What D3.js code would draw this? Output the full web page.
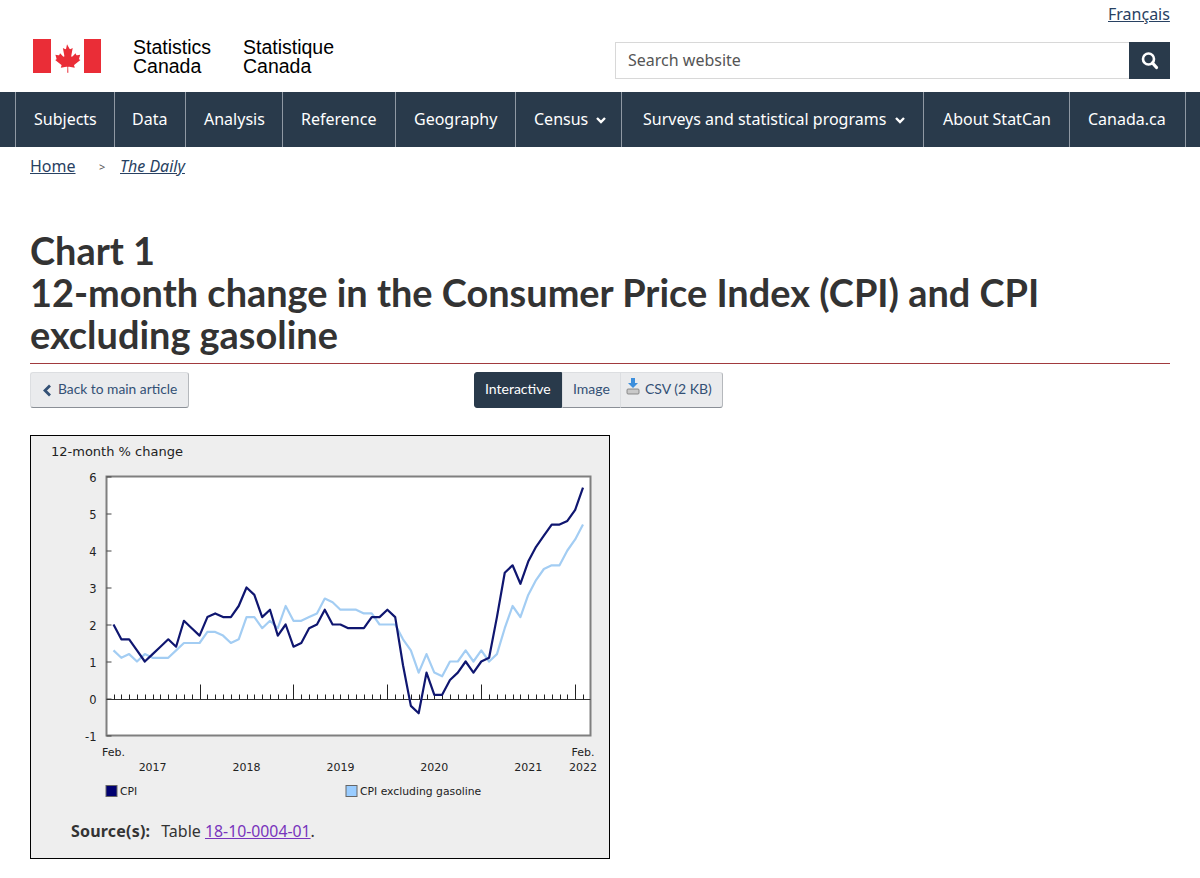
<!DOCTYPE html>
<html lang="en">
<head>
<meta charset="utf-8">
<title>Chart 1: 12-month change in the Consumer Price Index (CPI) and CPI excluding gasoline</title>
<script src="https://cdn.jsdelivr.net/npm/d3@7"></script>
<style>
  html, body { margin: 0; padding: 0; background: #fff; }
  body { position: relative; width: 1200px; height: 878px; overflow: hidden; font-family: "Noto Sans", sans-serif; color: #333; }
  .abs { position: absolute; white-space: nowrap; }
  a { color: #284162; }
  .logo { font-family: "Liberation Sans", sans-serif; font-size: 19.5px; line-height: 19px; color: #000; }
  #nav { position: absolute; left: 0; top: 92px; width: 1200px; height: 55px; background: #293a4b; }
  #nav span { position: absolute; top: 16px; color: #fff; font-size: 16px; line-height: 22px; white-space: nowrap; }
  #nav i { position: absolute; top: 0; width: 1px; height: 55px; background: #8f98a3; }
  #search { left: 615px; top: 42px; width: 513px; height: 35px; border: 1px solid #d8d8d8; }
  #search span { position: absolute; left: 12px; top: 6px; font-size: 16px; line-height: 22px; color: #555; }
  #searchBtn { left: 1129px; top: 42px; width: 41px; height: 37px; background: #293a4b; }
  h1 { position: absolute; left: 30px; top: 230px; margin: 0; font-family: Lato, sans-serif; font-weight: 700; font-size: 37.9px; line-height: 42px; color: #333; width: 1140px; }
  #rule { left: 30px; top: 363px; width: 1140px; height: 1px; background: #a13a3e; }
  .btn { position: absolute; box-sizing: border-box; height: 36px; top: 372px; font-family: Lato, sans-serif; font-size: 14px; line-height: 31px; background: #eaebed; color: #335075; border: 1px solid #dcdee1; border-bottom: 1px solid #8a8f96; border-right-color: #b5b8bc; white-space: nowrap; }
  #frame { position: absolute; box-sizing: border-box; left: 30px; top: 435px; width: 580px; height: 424px; background: #eee; border: 1px solid #000; }
  #chart { position: absolute; left: 0; top: 0; }
  #source { position: absolute; left: 40px; top: 383px; font-size: 16px; line-height: 24px; white-space: nowrap; color: #333; }
  #source b { letter-spacing: .2px; margin-right: 11px; }
  #source a { color: #7834bc; font-size: 15.8px; }
</style>
</head>
<body>

<!-- page header -->
<a class="abs" style="left:1108px;top:3px;font-size:16px;line-height:22px" href="#">Français</a>
<svg class="abs" style="left:33px;top:39px" width="68" height="34" viewBox="0 0 68 34">
  <rect x="0" y="0" width="18" height="34" fill="#ea2d37"/>
  <rect x="51" y="0" width="17" height="34" fill="#ea2d37"/>
  <path fill="#ea2d37" d="M34 3l3.2 5.8c.4.6 1 .6 1.600.3l2.500-1.300-1.800 9.400c-.3 1.700.8 2.200 1.800 1.100l3.600-3.800 1 2.100c.3.5.7.6 1.300.5l3.700-.8-1.300 4.500c-.2.800-.4 1.300.3 1.600l1.300.6-7.700 6.200c-.7.700-.5 1 -.2 1.700l.7 2.100-7.200-1.300c-.8-.1-1.300 0-1.300.7l.2 7.100h-1.400l.2-7.100c0-.7-.5-.8-1.300-.7l-7.200 1.300.7-2.100c.3-.7.500-1-.2-1.700l-7.700-6.200 1.300-.6c.7-.3.500-.8.300-1.600l-1.300-4.500 3.700.8c.6.100 1-.0 1.300-.5l1-2.100 3.600 3.800c1 1.100 2.100.6 1.800-1.100l-1.800-9.400 2.500 1.300c.6.3 1.200.3 1.600-.3z" transform="translate(7.500 3) scale(.78)"/>
</svg>
<div class="abs logo" style="left:133px;top:38px">Statistics<br>Canada</div>
<div class="abs logo" style="left:243px;top:38px">Statistique<br>Canada</div>
<div class="abs" id="search"><span>Search website</span></div>
<div class="abs" id="searchBtn">
  <svg width="41" height="37" viewBox="0 0 41 37"><circle cx="19.500" cy="17" r="5.500" fill="none" stroke="#fff" stroke-width="2.600"/><line x1="23.500" y1="21" x2="27.500" y2="25.500" stroke="#fff" stroke-width="3.200" stroke-linecap="round"/></svg>
</div>

<div id="nav"></div>

<a class="abs" style="left:30px;top:155px;font-size:16px;line-height:22px" href="#">Home</a>
<span class="abs" style="left:99px;top:158px;font-size:11px;line-height:18px;color:#555">&gt;</span>
<a class="abs" style="left:120px;top:155px;font-size:16px;line-height:22px;font-style:italic" href="#">The Daily</a>

<h1>Chart 1<br>12-month change in the Consumer Price Index (CPI) and CPI excluding gasoline</h1>
<div class="abs" id="rule"></div>

<div class="btn" style="left:30px;width:159px;padding-left:27px;border-radius:3px;font-size:13.8px">Back to main article
  <svg class="abs" style="left:11px;top:11px" width="10" height="13" viewBox="0 0 10 13"><path d="M8 1.500L3 6.500L8 11.500" fill="none" stroke="#335075" stroke-width="2.800"/></svg>
</div>
<div class="btn" style="left:474px;width:88px;padding-left:10px;background:#293a4b;color:#fff;border-color:#293a4b;border-radius:3px 0 0 3px">Interactive</div>
<div class="btn" style="left:562px;width:59px;padding-left:10px">Image</div>
<div class="btn" style="left:620px;width:103px;padding-left:24px;border-radius:0 3px 3px 0">CSV (2 KB)
  <svg class="abs" style="left:5px;top:5px" width="15" height="18" viewBox="0 0 15 18"><path d="M5 0h4v5h3l-5 5-5-5h3z" fill="#3d8fdc"/><rect x="1" y="11" width="12" height="5" rx="1" fill="#c9c9c9" stroke="#777" stroke-width=".8"/></svg>
</div>

<div id="frame">
  <svg id="chart" width="578" height="422"></svg>
  <div id="source"><b>Source(s):</b>Table <a href="#">18-10-0004-01</a>.</div>
</div>

<script>
// nav bar
const NAV_LABELS = ['Subjects', 'Data', 'Analysis', 'Reference', 'Geography', 'Census', 'Surveys and statistical programs', 'About StatCan', 'Canada.ca'];
const NAV_TEXT_X = [34, 132, 204, 301, 414, 534, 643, 943, 1088];
const NAV_RULES_X = [15, 114, 185, 282, 395, 515, 621, 923, 1069, 1185];
const NAV_CARETS_X = [601, 900];

// chart data, Feb. 2017 to Feb. 2022, monthly
const cpi = [
  2.0, 1.6, 1.6, 1.3, 1.0, 1.2, 1.4, 1.6, 1.4, 2.1, 1.9,
  1.7, 2.2, 2.3, 2.2, 2.2, 2.5, 3.0, 2.8, 2.2, 2.4, 1.7, 2.0,
  1.4, 1.5, 1.9, 2.0, 2.4, 2.0, 2.0, 1.9, 1.9, 1.9, 2.2, 2.2,
  2.4, 2.2, 0.9, -0.2, -0.4, 0.7, 0.1, 0.1, 0.5, 0.7, 1.0, 0.7,
  1.0, 1.1, 2.2, 3.4, 3.6, 3.1, 3.7, 4.1, 4.4, 4.7, 4.7, 4.8,
  5.1, 5.7
];
const cpiExGas = [
  1.3, 1.1, 1.2, 1.0, 1.2, 1.1, 1.1, 1.1, 1.3, 1.5, 1.5,
  1.5, 1.8, 1.8, 1.7, 1.5, 1.6, 2.2, 2.2, 1.9, 2.1, 1.9, 2.5,
  2.1, 2.1, 2.2, 2.3, 2.7, 2.6, 2.4, 2.4, 2.4, 2.3, 2.3, 2.0,
  2.0, 2.0, 1.6, 1.3, 0.7, 1.2, 0.7, 0.6, 1.0, 1.0, 1.3, 1.0,
  1.3, 1.0, 1.2, 1.9, 2.5, 2.2, 2.8, 3.2, 3.5, 3.6, 3.6, 4.0,
  4.3, 4.7
];
const yTicks = [-1, 0, 1, 2, 3, 4, 5, 6];
const yearLabels = ['2017', '2018', '2019', '2020', '2021'];
const seriesNames = ['CPI', 'CPI excluding gasoline'];
const seriesColors = ['#0f1670', '#a3cdf3'];
const legendColors = ['#000070', '#99ccff'];

(function () {
  const nav = d3.select('#nav');
  NAV_RULES_X.forEach(x => nav.append('i').style('left', x + 'px'));
  NAV_LABELS.forEach((t, i) => nav.append('span').style('left', NAV_TEXT_X[i] + 'px').text(t));
  const navSvg = nav.append('svg').attr('width', 1200).attr('height', 55).style('position', 'absolute').style('left', 0).style('top', 0);
  NAV_CARETS_X.forEach(x => navSvg.append('path')
    .attr('d', `M${x - 4},26 L${x},30 L${x + 4},26`)
    .attr('fill', 'none').attr('stroke', '#fff').attr('stroke-width', 2.4));

  // svg coords are frame coords: page minus (31, 436)
  const svg = d3.select('#chart');
  const plot = { left: 75.5, right: 559.5, top: 40.5, bottom: 299.5 };
  const font = "'DejaVu Sans', Verdana, sans-serif";

  const months = d3.utcMonth.range(Date.UTC(2017, 1, 1), Date.UTC(2022, 2, 1));
  const x = d3.scaleLinear().domain([0, months.length - 1]).range([82.5, 552]);
  const y = d3.scaleLinear().domain([-1, 6]).range([plot.bottom, plot.top]);

  svg.append('rect')
    .attr('x', plot.left).attr('y', plot.top)
    .attr('width', plot.right - plot.left).attr('height', plot.bottom - plot.top)
    .attr('fill', '#fff').attr('stroke', '#7f7f7f').attr('stroke-width', 2);

  // y axis
  const yAxis = svg.append('g')
    .attr('transform', `translate(${plot.left},0)`)
    .call(d3.axisLeft(y).tickValues(yTicks).tickSize(-5).tickPadding(10).tickFormat(d => String(d)));
  yAxis.select('.domain').remove();
  yAxis.selectAll('line').attr('stroke', '#444');
  yAxis.selectAll('text').attr('y', 1).attr('font-family', font).attr('font-size', 11.5).attr('fill', '#222');

  // zero line with monthly ticks, longer at January
  const zeroY = Math.round(y(0)) + 0.5;
  svg.append('line')
    .attr('x1', plot.left).attr('x2', plot.right)
    .attr('y1', zeroY).attr('y2', zeroY)
    .attr('stroke', '#333').attr('stroke-width', 1);
  svg.append('g').selectAll('line').data(months).join('line')
    .attr('x1', (d, i) => Math.round(x(i)) + 0.5)
    .attr('x2', (d, i) => Math.round(x(i)) + 0.5)
    .attr('y1', zeroY)
    .attr('y2', d => zeroY - (d.getUTCMonth() === 0 ? 15 : 5))
    .attr('stroke', '#222').attr('stroke-width', 1);

  // series
  const line = d3.line().x((d, i) => x(i)).y(d => y(d));
  [cpiExGas, cpi].forEach((vals, k) => {
    svg.append('path').attr('d', line(vals))
      .attr('fill', 'none')
      .attr('stroke', k ? seriesColors[0] : seriesColors[1])
      .attr('stroke-width', 2.2)
      .attr('stroke-linejoin', 'round');
  });

  // axis titles and labels
  const label = (px, py, t, size, anchor) => svg.append('text')
    .attr('x', px).attr('y', py).attr('font-family', font)
    .attr('font-size', size).attr('fill', '#222')
    .attr('text-anchor', anchor || 'middle').text(t);

  label(20, 20, '12-month % change', 13, 'start');
  label(x(0), 320, 'Feb.', 11);
  label(x(60), 320, 'Feb.', 11);
  const julys = months.map((d, i) => (d.getUTCMonth() === 6 ? i : -1)).filter(i => i >= 0);
  yearLabels.forEach((t, i) => label(x(julys[i]), 335, t, 11));
  label(x(60), 335, '2022', 11);

  // legend
  const legendX = [75, 315];
  seriesNames.forEach((t, i) => {
    svg.append('rect')
      .attr('x', legendX[i]).attr('y', 349.5).attr('width', 11).attr('height', 11)
      .attr('fill', legendColors[i]).attr('stroke', '#666').attr('stroke-width', 1);
    label(legendX[i] + 14, 359, t, 10.8, 'start');
  });
})();
</script>
</body>
</html>
